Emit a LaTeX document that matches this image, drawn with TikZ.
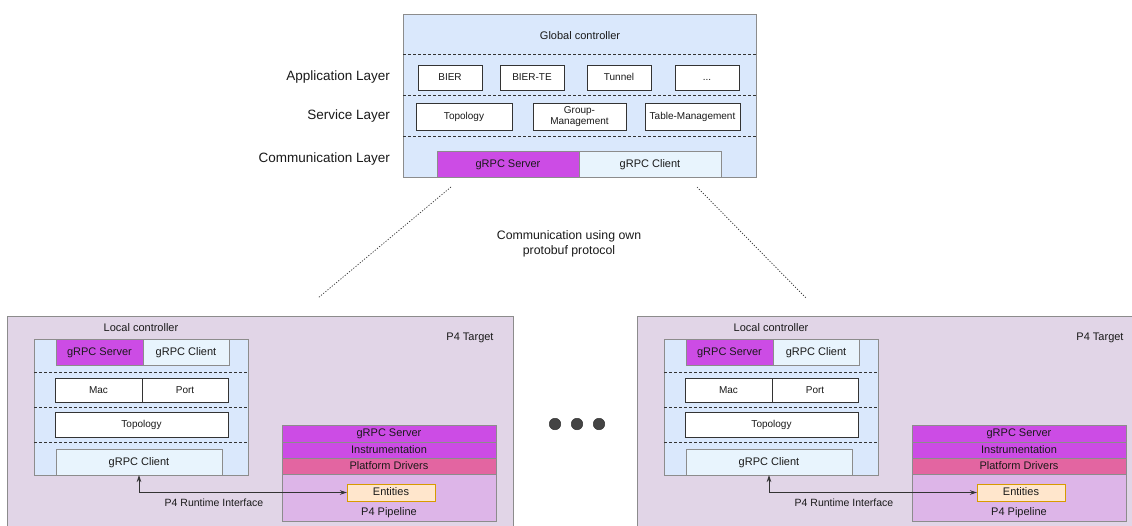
\documentclass[tikz,border=0pt]{standalone}
\usepackage{fontspec}
\setmainfont{Liberation Sans}
\usetikzlibrary{arrows.meta}
\definecolor{blueFill}{HTML}{DAE8FC}
\definecolor{lightFill}{HTML}{E8F4FD}
\definecolor{grpcFill}{HTML}{CC4CE5}
\definecolor{drvFill}{HTML}{E365A1}
\definecolor{pipeFill}{HTML}{DDB5E8}
\definecolor{tgtFill}{HTML}{E1D5E7}
\definecolor{entFill}{HTML}{FFE6CC}
\definecolor{entDraw}{HTML}{D79B00}
\definecolor{grayDraw}{HTML}{8C8C8C}
\definecolor{darkDraw}{HTML}{333333}
\definecolor{txt}{HTML}{1A1A1A}
\definecolor{dotFill}{HTML}{444444}
\newcommand\pfourinstance{%
  \node[tgtbox, minimum width=506pt, minimum height=222pt] (tgt) at (7,316) {};
  \node[lbl] (tgtlabel) at (470,337) {P4 Target};
  \node[lbl] (lclabel) at (141,328) {Local controller};
  \node[bluebox, minimum width=214pt, minimum height=136pt] (lc) at (34,339) {};
  \draw[dashline] (lc.west |- 0,372) -- (lc.east |- 0,372);
  \draw[dashline] (lc.west |- 0,407) -- (lc.east |- 0,407);
  \draw[dashline] (lc.west |- 0,442) -- (lc.east |- 0,442);
  \node[grpcbox, minimum width=87pt, minimum height=26pt] (srv) at (56,339) {gRPC Server};
  \node[lightbox, minimum width=86pt, minimum height=26pt] (cli) at (143,339) {gRPC Client};
  \node[wbox, minimum width=87pt, minimum height=24pt] (mac) at (55,378) {Mac};
  \node[wbox, minimum width=86pt, minimum height=24pt] (port) at (142,378) {Port};
  \node[wbox, minimum width=173pt, minimum height=25pt] (topo) at (55,412) {Topology};
  \node[lightbox, minimum width=166pt, minimum height=26pt] (cl) at (56,449) {gRPC Client};
  \node[pipebox, minimum width=214pt, minimum height=47pt, anchor=north west] (pipe) at (282,474) {};
  \node[lbl] (pipelabel) at (389,512) {P4 Pipeline};
  \node[stackbox, fill=grpcFill, minimum width=214pt, minimum height=17pt] (psrv) at (282,425) {gRPC Server};
  \node[stackbox, fill=grpcFill, minimum width=214pt, minimum height=16pt] (inst) at (282,442) {Instrumentation};
  \node[stackbox, fill=drvFill, minimum width=214pt, minimum height=16pt] (drv) at (282,458) {Platform Drivers};
  \node[entbox, minimum width=88pt, minimum height=17pt] (ent) at (347,484) {Entities};
  \draw[conn] (cl.south) |- (ent.west);
  \node[lbl, font=\fontsize{10.5}{12}\selectfont] (rtlabel) at (214,503) {P4 Runtime Interface};
}
\begin{document}
\begin{tikzpicture}[x=1pt,y=-1pt,
  every node/.style={text=txt, inner sep=0pt, outer sep=0pt, text height=0.9em, text depth=0.21em},
  base/.style={rectangle, anchor=north west, font=\fontsize{11}{13}\selectfont},
  bluebox/.style={base, fill=blueFill, draw=grayDraw, line width=0.8pt},
  wbox/.style={base, fill=white, draw=darkDraw, line width=0.8pt, font=\fontsize{10}{12}\selectfont},
  lightbox/.style={base, fill=lightFill, draw=grayDraw, line width=0.8pt},
  grpcbox/.style={base, fill=grpcFill, draw=grayDraw, line width=0.8pt},
  stackbox/.style={base, draw=grayDraw, line width=0.8pt},
  pipebox/.style={base, fill=pipeFill, draw=grayDraw, line width=0.8pt},
  tgtbox/.style={base, fill=tgtFill, draw=grayDraw, line width=0.8pt},
  entbox/.style={base, fill=entFill, draw=entDraw, line width=0.8pt},
  lbl/.style={font=\fontsize{11}{13}\selectfont},
  layerlbl/.style={anchor=east, font=\fontsize{13.5}{16}\selectfont},
  dashline/.style={draw=darkDraw, line width=0.8pt, dash pattern=on 3pt off 2pt},
  dotline/.style={draw=darkDraw, line width=0.7pt, dash pattern=on 1.2pt off 1.6pt},
  conn/.style={draw=darkDraw, line width=0.9pt, {Stealth[length=7pt,width=4.5pt]}-{Stealth[length=7pt,width=4.5pt]}},
  dotnode/.style={circle, fill=dotFill, draw=darkDraw, line width=0.5pt, minimum size=11.5pt, text height=, text depth=}
]
\useasboundingbox (0,0) rectangle (1132,525);
\clip (0,0) rectangle (1132,525);
\fill[white] (0,0) rectangle (1132,525);

% Global controller
\node[bluebox, minimum width=353pt, minimum height=163pt] (gc) at (403,14) {};
\node[lbl] (gclabel) at (580,36) {Global controller};
\draw[dashline] (gc.west |- 0,54) -- (gc.east |- 0,54);
\draw[dashline] (gc.west |- 0,95) -- (gc.east |- 0,95);
\draw[dashline] (gc.west |- 0,136) -- (gc.east |- 0,136);
\node[wbox, minimum width=64pt, minimum height=25pt] (bier) at (418,65) {BIER};
\node[wbox, minimum width=64pt, minimum height=25pt] (bierte) at (500,65) {BIER-TE};
\node[wbox, minimum width=64pt, minimum height=25pt] (tunnel) at (587,65) {Tunnel};
\node[wbox, minimum width=64pt, minimum height=25pt] (more) at (675,65) {...};
\node[wbox, minimum width=96pt, minimum height=27pt] (gtopo) at (416,103) {Topology};
\node[wbox, minimum width=93pt, minimum height=27pt, align=center, text height=, text depth=, font=\fontsize{10}{11.5}\selectfont] (gm) at (533,103) {Group-\\Management};
\node[wbox, minimum width=95pt, minimum height=27pt] (tm) at (645,103) {Table-Management};
\node[grpcbox, minimum width=142pt, minimum height=26pt] (gsrv) at (437,151) {gRPC Server};
\node[lightbox, minimum width=142pt, minimum height=26pt] (gcli) at (579,151) {gRPC Client};

\node[layerlbl] (applayer) at (390,77) {Application Layer};
\node[layerlbl] (servlayer) at (390,116) {Service Layer};
\node[layerlbl] (commlayer) at (390,159) {Communication Layer};

% dotted links
\coordinate (dla) at (451,187);
\coordinate (dlb) at (318,298);
\coordinate (dra) at (697,187);
\coordinate (drb) at (806,298);
\draw[dotline] (dla) -- (dlb);
\draw[dotline] (dra) -- (drb);
\node[align=center, text height=, text depth=, font=\fontsize{12.3}{15.5}\selectfont] (commtext) at (569,244) {Communication using own\\protobuf protocol};

% instances
\begin{scope}[name prefix=L-]
\pfourinstance
\end{scope}
\begin{scope}[xshift=630pt, name prefix=R-]
\pfourinstance
\end{scope}

% dots
\node[dotnode] (dot1) at (555,424) {};
\node[dotnode] (dot2) at (577,424) {};
\node[dotnode] (dot3) at (599,424) {};
\end{tikzpicture}
\end{document}
